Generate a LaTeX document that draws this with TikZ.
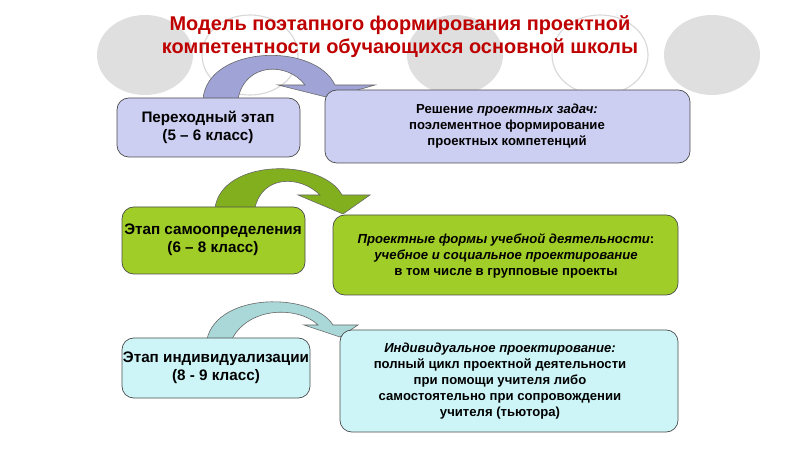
\documentclass[tikz,border=0pt]{standalone}
\usepackage{fontspec}
\setmainfont{Liberation Sans}
\begin{document}
\begin{tikzpicture}[x=0.3mm,y=-0.3mm,font=\bfseries,
  box/.style={draw=black!70,rounded corners=10pt,line width=0.6pt},
  txt/.style={align=center,font=\bfseries\fontsize{13}{15.5}\selectfont},
  small/.style={align=center,font=\bfseries\fontsize{11.2}{13.5}\selectfont},
  arcarrow/.style={draw=black!60,line width=0.5pt}]
\useasboundingbox (0,0) rectangle (800,450);
% background circles
\fill[gray!25] (145,55) ellipse (48 and 40);
\draw[gray!30,line width=1pt] (250,55) ellipse (48 and 40);
\fill[gray!25] (455,55) ellipse (48 and 40);
\draw[gray!30,line width=1pt] (600,55) ellipse (48 and 40);
\fill[gray!25] (712,55) ellipse (48 and 40);
\node[red!75!black,align=center,font=\bfseries\fontsize{17}{19.5}\selectfont] (title) at (400,37)
  {Модель поэтапного формирования проектной\\компетентности обучающихся основной школы};

% stage 1
\draw[arcarrow,fill={rgb,255:red,160;green,163;blue,214}] (203,99) .. controls (208,45) and (315,42) .. (335,85)
  -- (375,85) -- (330,98) -- (278,85) -- (305,85) .. controls (288,62) and (245,62) .. (238,99) -- cycle;
\draw[box,fill={rgb,255:red,205;green,207;blue,242}] (117,98) rectangle (300,157);
\node[txt] (s1) at (208,127) {Переходный этап\\(5 – 6 класс)};
\draw[box,fill={rgb,255:red,205;green,207;blue,242}] (325,90) rectangle (690,163);
\node[small] (r1) at (507,126)
  {Решение \textit{проектных задач:}\\поэлементное формирование\\проектных компетенций};

% stage 2
\draw[arcarrow,fill={rgb,255:red,130;green,175;blue,30}] (215,208) .. controls (222,158) and (322,158) .. (342,195)
  -- (370,195) -- (343,214) -- (298,195) -- (320,195) .. controls (300,175) and (262,175) .. (255,208) -- cycle;
\draw[box,fill={rgb,255:red,160;green,205;blue,40}] (122,207) rectangle (305,274);
\node[txt] (s2) at (213,240) {Этап самоопределения\\(6 – 8 класс)};
\draw[box,fill={rgb,255:red,160;green,205;blue,40}] (333,215) rectangle (678,295);
\node[small] (r2) at (506,256)
  {\textit{Проектные формы учебной деятельности}:\\\textit{учебное и социальное проектирование}\\в том числе в групповые проекты};

% stage 3
\draw[arcarrow,fill={rgb,255:red,170;green,215;blue,215}] (207,339) .. controls (218,292) and (312,292) .. (333,325)
  -- (358,325) -- (340,337) -- (304,325) -- (318,325) .. controls (300,307) and (250,305) .. (232,339) -- cycle;
\draw[box,fill={rgb,255:red,205;green,245;blue,248}] (122,338) rectangle (310,398);
\node[txt] (s3) at (216,368) {Этап индивидуализации\\(8 - 9 класс)};
\draw[box,fill={rgb,255:red,205;green,245;blue,248}] (340,330) rectangle (678,432);
\node[small] (r3) at (500,381)
  {\textit{Индивидуальное проектирование:}\\полный цикл проектной деятельности\\при помощи учителя либо\\самостоятельно при сопровождении\\учителя (тьютора)};
\end{tikzpicture}
\end{document}
